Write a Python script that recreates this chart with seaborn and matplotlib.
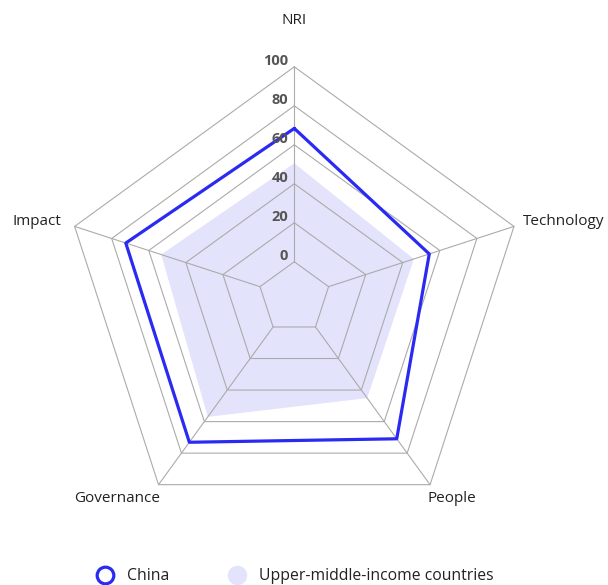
import numpy as np
import matplotlib
matplotlib.use("Agg")
import matplotlib.pyplot as plt
from matplotlib.lines import Line2D
import seaborn as sns

# Pillars of the Network Readiness Index, clockwise from the top
categories = ["NRI", "Technology", "People", "Governance", "Impact"]
china = [68.4, 54.3, 70.9, 73.1, 72.4]
upper_middle = [50.5, 46.0, 45.1, 57.0, 53.3]
ring_ticks = [0, 20, 40, 60, 80, 100]

sns.set_theme(style="white")
plt.rcParams["font.family"] = ["Open Sans", "DejaVu Sans"]
plt.rcParams["axes.edgecolor"] = "none"
plt.rcParams["axes.linewidth"] = 0

fig = plt.figure(figsize=(6.08, 5.85), dpi=100)
ax = fig.add_axes([63.3 / 608, 56.2 / 585, 462 / 608, 462 / 585], projection="polar")
ax.set_theta_zero_location("N")
ax.set_theta_direction(-1)
ax.set_ylim(0, 100)
ax.set_rorigin(-18.5)
ax.set_xticks([])
ax.set_yticks([])
ax.grid(False)
for sp in ax.spines.values():
    sp.set_visible(False)
ax.patch.set_visible(False)

n = len(categories)
theta = np.linspace(0, 2 * np.pi, n, endpoint=False)
theta_closed = np.append(theta, 2 * np.pi)

grid_color = "#ababab"

# Upper-middle-income average as a filled area, under the grid
ax.fill(theta_closed, upper_middle + upper_middle[:1], color="#e3e3fb", lw=0, zorder=1,
        clip_on=False)

# Pentagonal rings and spokes
for t in ring_ticks:
    ax.plot(theta_closed, [t] * (n + 1), color=grid_color, lw=0.8, zorder=2, clip_on=False)
for th in theta:
    ax.plot([th, th], [ring_ticks[0], ring_ticks[-1]], color=grid_color, lw=0.8, zorder=2,
            clip_on=False)

# China outline
sns.lineplot(x=theta_closed, y=china + china[:1], sort=False, estimator=None, ax=ax,
             color="#2a2af2", lw=2.3, zorder=4, clip_on=False)

# Ring value labels along the top spoke
for t in ring_ticks:
    ax.annotate(str(t), xy=(0, t), xytext=(-6, 6), textcoords="offset pixels",
                ha="right", va="center", fontsize=10.5, fontweight="bold", color="#555555",
                zorder=5)

# Pillar labels around the outer ring
label_place = {
    "NRI": ((0, 46), "center", "center"),
    "Technology": ((9, 5), "left", "center"),
    "People": ((-3, -14), "left", "center"),
    "Governance": ((2, -14), "right", "center"),
    "Impact": ((-13, 5), "right", "center"),
}
for th, name in zip(theta, categories):
    off, ha, va = label_place[name]
    ax.annotate(name, xy=(th, 100), xytext=off, textcoords="offset pixels",
                ha=ha, va=va, fontsize=11, color="#222222", annotation_clip=False)

handles = [
    Line2D([], [], ls="none", marker="o", markersize=12, markerfacecolor="white",
           markeredgecolor="#2a2af2", markeredgewidth=2.3),
    Line2D([], [], ls="none", marker="o", markersize=13, markerfacecolor="#e3e3fb",
           markeredgecolor="#e3e3fb"),
]
fig.legend(handles, ["China", "Upper-middle-income countries"], loc="center",
           bbox_to_anchor=(294.5 / 608, 8.5 / 585), ncol=2, frameon=False,
           fontsize=11.3, handletextpad=0.8, columnspacing=3.7, handlelength=1.2,
           labelcolor="#222222")

fig.savefig("out.png", dpi=100)
